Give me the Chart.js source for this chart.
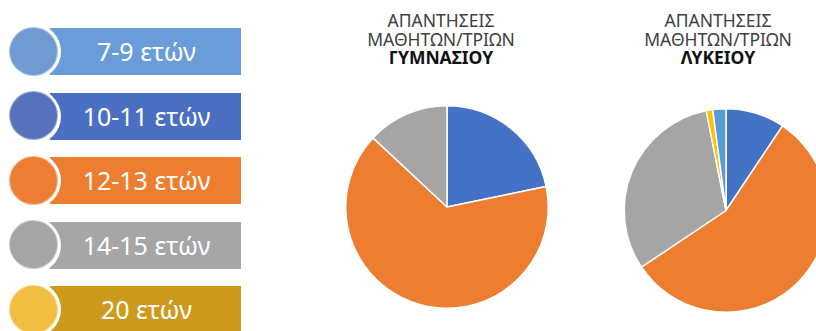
<!DOCTYPE html>
<html>
<head>
<meta charset="utf-8">
<script src="https://cdn.jsdelivr.net/npm/chart.js@4.4.1/dist/chart.umd.min.js"></script>
<style>
  html, body { margin: 0; padding: 0; background: #fff; }
  body { width: 816px; height: 331px; overflow: hidden; position: relative; font-family: "Noto Sans", "Open Sans", sans-serif; }
  .row { position: absolute; left: 0; width: 245px; height: 47px; }
  .rect { position: absolute; left: 50px; top: 0; width: 191px; height: 47px; }
  .ring { position: absolute; left: 5.5px; top: -4px; width: 55px; height: 55px; border-radius: 50%; background: #fff; }
  .dot { position: absolute; left: 8.5px; top: -1.5px; width: 49px; height: 49px; border-radius: 50%; box-sizing: border-box; border: 1px solid rgba(255,255,255,0.45); }
  .txt { position: absolute; left: 52px; width: 189px; top: 0; height: 47px; line-height: 47px; text-align: center; color: #fff; font-size: 25px; }
  .title { position: absolute; width: 260px; text-align: center; font-size: 17.5px; line-height: 18.7px; color: #404040; }
  .title b { color: #111; }
  .pie { position: absolute; }
</style>
</head>
<body>
<div id="legend"></div>
<div class="title" id="t1"></div>
<div class="title" id="t2"></div>
<div class="pie" id="p1wrap" style="left:327px; top:105px; width:240px; height:204px;"><canvas id="pie1"></canvas></div>
<div class="pie" id="p2wrap" style="left:606px; top:108px; width:240px; height:205px;"><canvas id="pie2"></canvas></div>
<script>
// Legend (SmartArt list) categories and colours
const legendLabels = ['7-9 ετών', '10-11 ετών', '12-13 ετών', '14-15 ετών', '20 ετών'];
const legendRectColors = ['#6A9CDA', '#4B6FC3', '#ED7D31', '#A6A6A6', '#CE9A1E'];
const legendDotColors = ['#6F9AD2', '#5672BC', '#EE7D34', '#A5A5A5', '#F2BE41'];

// Pie slice order (clockwise from top)
const sliceLabels = ['10-11 ετών', '12-13 ετών', '14-15 ετών', '20 ετών', '7-9 ετών'];
const sliceColors = ['#4472C4', '#ED7D31', '#A5A5A5', '#FFC000', '#5B9BD5'];
const gymnasioValues = [10, 30, 6, 0, 0];
const lykeioValues = [9, 54, 30, 1, 2];

const titleLines = ['ΑΠΑΝΤΗΣΕΙΣ', 'ΜΑΘΗΤΩΝ/ΤΡΙΩΝ'];
const title1Bold = 'ΓΥΜΝΑΣΙΟΥ';
const title2Bold = 'ΛΥΚΕΙΟΥ';

// build legend
const legend = document.getElementById('legend');
const rowTops = [28, 92.5, 157, 221.5, 286];
legendLabels.forEach((lab, i) => {
  const row = document.createElement('div');
  row.className = 'row';
  row.style.top = rowTops[i] + 'px';
  row.innerHTML = '<div class="rect" style="background:' + legendRectColors[i] + '"></div>' +
    '<div class="ring"></div>' +
    '<div class="dot" style="background:' + legendDotColors[i] + '"></div>' +
    '<div class="txt">' + lab + '</div>';
  legend.appendChild(row);
});

// titles
function setTitle(id, bold, centerX) {
  const el = document.getElementById(id);
  el.innerHTML = titleLines.join('<br>') + '<br><b>' + bold + '</b>';
  el.style.left = (centerX - 130) + 'px';
  el.style.top = '11px';
}
setTitle('t1', title1Bold, 441);
setTitle('t2', title2Bold, 718);

function makePie(id, values) {
  return new Chart(document.getElementById(id), {
    type: 'pie',
    data: {
      labels: sliceLabels,
      datasets: [{
        data: values,
        backgroundColor: sliceColors,
        borderColor: '#ffffff',
        borderWidth: 1.5,
        hoverOffset: 0
      }]
    },
    options: {
      responsive: true,
      maintainAspectRatio: false,
      animation: false,
      layout: { padding: 0 },
      plugins: {
        legend: { display: false },
        tooltip: { enabled: false },
        title: { display: false }
      }
    }
  });
}
makePie('pie1', gymnasioValues);
makePie('pie2', lykeioValues);
</script>
</body>
</html>
